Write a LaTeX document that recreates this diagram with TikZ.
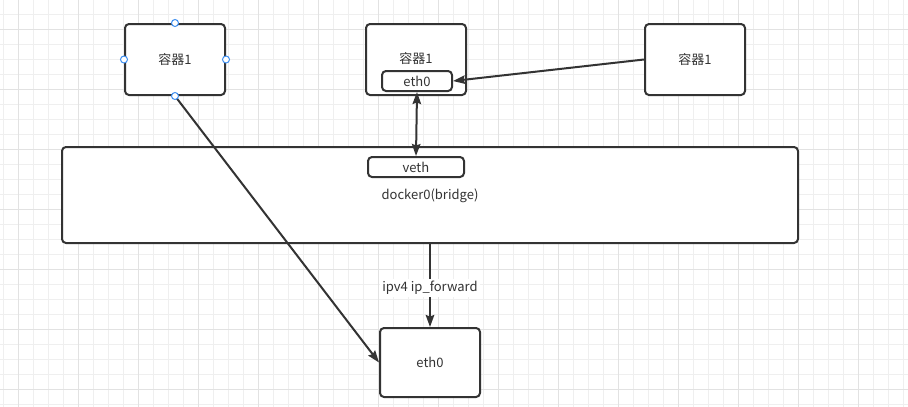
\documentclass[tikz,border=0pt]{standalone}
\usepackage{fontspec}
\newfontfamily\cjk{Noto Sans CJK SC}
\usetikzlibrary{arrows.meta}
\definecolor{ink}{HTML}{333333}
\definecolor{gridminor}{HTML}{EFEFEF}
\definecolor{gridmajor}{HTML}{E2E2E2}
\definecolor{handle}{HTML}{3D8EF0}
\tikzset{
  box/.style={draw=ink, line width=2pt, rounded corners=4pt, fill=white, inner sep=0pt, font=\cjk\fontsize{13}{15}\selectfont, text=ink},
  lbl/.style={inner sep=1pt, font=\cjk\fontsize{13}{15}\selectfont, text=ink},
  conn/.style={draw=ink, line width=2pt},
  tip/.style={-{Stealth[length=12pt,width=8.5pt,inset=1.5pt]}},
  dtip/.style={{Stealth[length=12pt,width=8.5pt,inset=1.5pt]}-{Stealth[length=12pt,width=8.5pt,inset=1.5pt]}},
  hnd/.style={circle, draw=handle, fill=white, line width=1pt, minimum size=7pt, inner sep=0pt},
}
\begin{document}
\begin{tikzpicture}[x=1pt,y=-1pt]
\useasboundingbox (0,0) rectangle (908,407);
\fill[white] (0,0) rectangle (908,407);
% grid
\foreach \gx in {3,18,...,908} {\draw[gridminor, line width=1pt] (\gx,0) -- (\gx,407);}
\foreach \gy in {-1,14,...,407} {\draw[gridminor, line width=1pt] (0,\gy) -- (908,\gy);}
\foreach \gx in {18,78,...,908} {\draw[gridmajor, line width=1pt] (\gx,0) -- (\gx,407);}
\foreach \gy in {29,89,...,407} {\draw[gridmajor, line width=1pt] (0,\gy) -- (908,\gy);}
% nodes
\node[box, minimum width=100, minimum height=71] (c1) at (175,59.5) {容器1};
\node[box, minimum width=100, minimum height=71] (c2) at (416,59.5) {};
\node[lbl] (c2t) at (416,59) {容器1};
\node[box, minimum width=70, minimum height=20] (e0) at (417,81) {eth0};
\node[box, minimum width=100, minimum height=71] (c3) at (695,59.5) {容器1};
\node[box, minimum width=736, minimum height=96] (br) at (430,195) {};
\node[lbl] (brt) at (430,196) {docker0(bridge)};
\node[box, minimum width=96, minimum height=20] (veth) at (416,167) {veth};
\node[box, minimum width=100, minimum height=69] (e1) at (430,362.5) {eth0};
% connectors
\draw[conn, tip] (c3.west) -- (e0.east);
\draw[conn, dtip] (e0.south) -- (veth.north);
\draw[conn, tip] (br.south) -- node[lbl, fill=white, inner sep=2pt, pos=0.53] (fwd) {ipv4 ip\_forward} (e1.north);
\draw[conn, tip] (c1.south) -- (e1.west);
% selection handles
\node[hnd] (h1) at (c1.north) {};
\node[hnd] (h2) at (c1.west) {};
\node[hnd] (h3) at (c1.east) {};
\node[hnd] (h4) at (c1.south) {};
\end{tikzpicture}
\end{document}
